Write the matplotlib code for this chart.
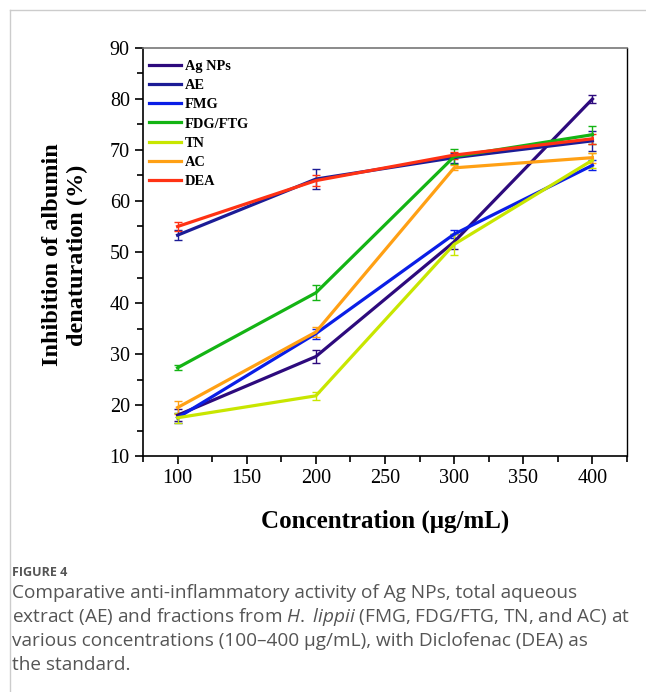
import matplotlib.pyplot as plt
from matplotlib.ticker import MultipleLocator
from matplotlib.lines import Line2D

# concentrations (ug/mL)
conc = [100, 200, 300, 400]

# inhibition of albumin denaturation (%)
ag_nps = [18.0, 29.5, 52.0, 80.0]
ag_nps_err = [1.2, 1.3, 1.5, 0.7]
ae = [53.3, 64.3, 68.5, 71.8]
ae_err = [1.0, 2.0, 1.0, 2.0]
fmg = [17.5, 34.0, 53.5, 67.0]
fmg_err = [1.0, 1.0, 0.8, 1.0]
fdg = [27.3, 42.0, 68.7, 73.0]
fdg_err = [0.5, 1.5, 1.5, 1.8]
tn = [17.5, 21.8, 51.5, 68.0]
tn_err = [1.0, 0.8, 2.0, 1.5]
ac = [19.5, 34.3, 66.5, 68.5]
ac_err = [1.2, 1.0, 0.5, 1.0]
dea = [55.0, 64.0, 69.0, 72.2]
dea_err = [0.8, 1.0, 0.7, 1.0]

labels = ["Ag NPs", "AE", "FMG", "FDG/FTG", "TN", "AC", "DEA"]
colors = ["#2d0a7d", "#1c1c96", "#0a1ee6", "#14b414", "#c8e600", "#ffa014", "#ff3214"]
series = [ag_nps, ae, fmg, fdg, tn, ac, dea]
errors = [ag_nps_err, ae_err, fmg_err, fdg_err, tn_err, ac_err, dea_err]

serif = ["Liberation Serif", "DejaVu Serif"]
plt.rcParams["mathtext.fontset"] = "custom"
plt.rcParams["mathtext.it"] = "Open Sans:italic"
plt.rcParams["mathtext.rm"] = "Open Sans"

fig = plt.figure(figsize=(6.46, 6.92), dpi=100)
ax = fig.add_axes([143 / 646, 1 - 456 / 692, (627 - 143) / 646, (456 - 48) / 692])

for y, e, c, lab in zip(series, errors, colors, labels):
    ax.errorbar(conc, y, yerr=e, color=c, lw=2.3, elinewidth=1.0, capsize=3,
                capthick=1.0, label=lab)

ax.set_xlim(75, 425)
ax.set_ylim(10, 90)
ax.xaxis.set_major_locator(MultipleLocator(50))
ax.xaxis.set_minor_locator(MultipleLocator(25))
ax.yaxis.set_major_locator(MultipleLocator(10))
ax.yaxis.set_minor_locator(MultipleLocator(5))
ax.tick_params(which="major", direction="out", length=6, width=1.2, labelsize=14.5)
ax.tick_params(which="minor", direction="out", length=4, width=1.2)
for lab in ax.get_xticklabels() + ax.get_yticklabels():
    lab.set_family(serif)
for s in ax.spines.values():
    s.set_linewidth(1.2)
ax.spines["top"].set_color("#777777")
ax.spines["right"].set_linewidth(1.0)

ax.set_xlabel("Concentration (μg/mL)", family=serif, fontsize=18, fontweight="bold")
ax.xaxis.set_label_coords((385 - 143) / 484, -(510 - 456) / 408)
ax.set_ylabel("Inhibition of albumin\ndenaturation (%)", family=serif, fontsize=17.5,
              fontweight="bold", linespacing=1.25)
ax.yaxis.set_label_coords(-(143 - 88) / 484, (456 - 255) / 408)

handles = [Line2D([], [], color=c, lw=2.3) for c in colors]
leg = ax.legend(handles, labels, loc="upper left", frameon=False,
                prop={"family": serif, "weight": "bold", "size": 10.4},
                handlelength=2.2, handletextpad=0.3, labelspacing=0.42,
                borderaxespad=0.0, bbox_to_anchor=(0.0, 0.985))

# page border lines
fig.add_artist(Line2D([10 / 646, 1], [1 - 10 / 692, 1 - 10 / 692], color="#cccccc", lw=1))
fig.add_artist(Line2D([10 / 646, 10 / 646], [0, 1 - 10 / 692], color="#cccccc", lw=1))

# caption
cap_font = ["Open Sans", "DejaVu Sans"]
fig.text(12 / 646, 1 - 572 / 692, "FIGURE 4", family=cap_font, fontsize=9, color="#555555",
         fontweight="bold", va="center")
cap_lines = [
    "Comparative anti-inflammatory activity of Ag NPs, total aqueous",
    r"extract (AE) and fractions from $\it{H.}$ $\it{lippii}$ (FMG, FDG/FTG, TN, and AC) at",
    "various concentrations (100\u2013400 μg/mL), with Diclofenac (DEA) as",
    "the standard.",
]
for i, line in enumerate(cap_lines):
    fig.text(12 / 646, 1 - (593 + 24 * i) / 692, line, family=cap_font, fontsize=13.7,
             color="#555555", va="center")

fig.savefig("out.png", dpi=100)
